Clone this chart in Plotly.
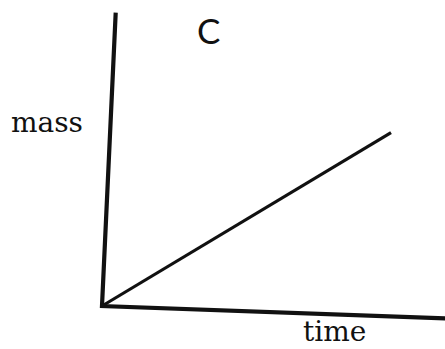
import plotly.graph_objects as go

# Mass grows linearly with time
time = [0, 10]
mass = [0, 6.0]

# Hand-drawn axes: vertical mass axis (leans slightly right) and the time axis
# (drifts slightly down), joined at the origin
axis_time = [0.474, 0, 0, 12.2]
axis_mass = [10.149, 0, 0, -0.438]

title_text = "C"
y_label = "mass"
x_label = "time"

W, H = 445, 349
ink = "#111111"

fig = go.Figure()

fig.add_trace(go.Scatter(
    x=axis_time, y=axis_mass, mode="lines",
    line=dict(color=ink, width=4.2),
    hoverinfo="skip",
))
fig.add_trace(go.Scatter(
    x=time, y=mass, mode="lines",
    line=dict(color=ink, width=3.2),
    hoverinfo="skip",
))


def px(x, y):
    return dict(x=x / W, y=1 - y / H, xref="paper", yref="paper")


fig.add_annotation(text=title_text, showarrow=False, xanchor="center", yanchor="middle",
                   font=dict(family="Lato", size=35, color=ink), **px(208.5, 30))
fig.add_annotation(text=y_label, showarrow=False, xanchor="center", yanchor="middle",
                   font=dict(family="DejaVu Serif", size=28, color=ink), **px(46.5, 123))
fig.add_annotation(text=x_label, showarrow=False, xanchor="center", yanchor="bottom",
                   borderpad=0, font=dict(family="DejaVu Serif", size=28, color=ink),
                   **px(334.5, 349))

fig.update_layout(
    width=W, height=H,
    margin=dict(l=0, r=0, t=0, b=0),
    paper_bgcolor="white", plot_bgcolor="white",
    showlegend=False,
    xaxis=dict(visible=False, range=[-102 / 28.9, 343 / 28.9], fixedrange=True),
    yaxis=dict(visible=False, range=[-43 / 28.9, 306 / 28.9], fixedrange=True),
)

fig.write_html("out.html")
